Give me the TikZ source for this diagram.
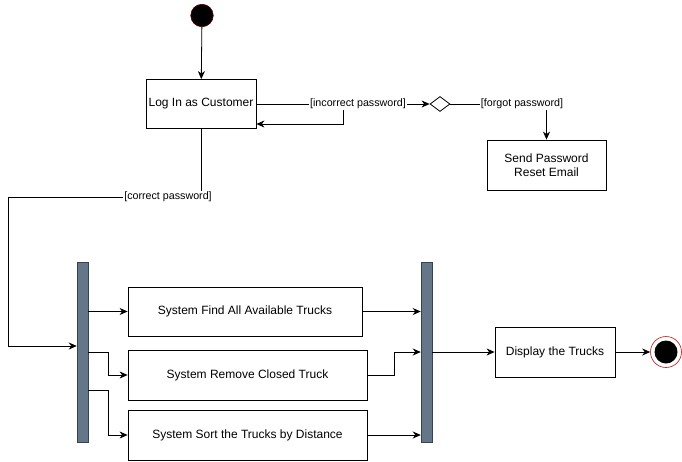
\documentclass[tikz,border=0pt]{standalone}
\usepackage{fontspec}
\setmainfont{Liberation Sans}
\usetikzlibrary{arrows.meta}
\usetikzlibrary{shapes.geometric}
\definecolor{barfill}{RGB}{100,118,135}
\definecolor{barline}{RGB}{49,67,84}
\definecolor{ringred}{RGB}{200,20,20}
\definecolor{dotred}{RGB}{90,0,0}

\begin{document}
\begin{tikzpicture}[x=1pt,y=-1pt,line width=0.8pt,
  task/.style={rectangle,draw,fill=white,inner sep=0pt,align=center,font=\fontsize{12}{14.5}\selectfont},
  guard/.style={fill=white,inner sep=1pt,font=\fontsize{10.7}{12}\selectfont},
  bar/.style={rectangle,draw=barline,fill=barfill,line width=0.5pt,inner sep=0pt,minimum width=11pt,minimum height=180pt},
  flow/.style={-{Stealth[length=8pt,width=7pt,inset=2.5pt]}}]
\useasboundingbox (0,0) rectangle (682,461);

\node[circle,draw=dotred,fill=black,line width=0.6pt,inner sep=0pt,minimum size=22.5pt] (start) at (202,15.5) {};
\node[task,minimum width=110pt,minimum height=49pt] (login) at (201,104) {Log In as Customer};
\node[diamond,draw,fill=white,inner sep=0pt,minimum width=20pt,minimum height=15pt] (choice) at (440,104) {};
\node[task,minimum width=119pt,minimum height=50pt] (reset) at (546.5,165) {Send Password\\Reset Email};
\node[guard] (badpw) at (358,104) {[incorrect password]};
\node[guard] (forgotpw) at (522,104) {[forgot password]};
\node[guard] (okpw) at (168,197) {[correct password]};

\node[bar] (fork) at (82.5,352) {};
\node[bar] (join) at (426.5,352) {};
\node[task,minimum width=234pt,minimum height=49pt] (find) at (245,311.5) {System Find All Available Trucks};
\node[task,minimum width=239pt,minimum height=50pt] (remove) at (247.5,375) {System Remove Closed Truck};
\node[task,minimum width=239pt,minimum height=50pt] (sort) at (247.5,435) {System Sort the Trucks by Distance};
\node[task,minimum width=120pt,minimum height=50pt] (show) at (555,352) {Display the Trucks};
\node[circle,draw=ringred,fill=white,line width=0.6pt,inner sep=0pt,minimum size=31pt] (finish) at (666,352) {};
\fill (finish.center) circle (11.5);

\coordinate (bendl) at (8,197);
\draw[flow] (start) -- (login);
\draw (login.east) -- (badpw.west);
\draw[flow] (badpw.east) -- (choice.west);
\draw (choice.east) -- (forgotpw.west);
\draw[flow] (forgotpw.south -| reset.north) -- (reset.north);
\draw[flow] ([xshift=-15pt]badpw.south) |- ([yshift=-20pt]login.east);
\draw (login.south) -- (login.south |- okpw.north);
\draw[flow] (okpw.west) -- (bendl) |- ([yshift=6pt]fork.west);

\draw[flow] (fork.east |- find.west) -- (find.west);
\draw[flow] (fork.east) -- ++(20,0) |- (remove.west);
\draw[flow] ([yshift=-38pt]fork.east) -- ++(20,0) |- (sort.west);
\draw[flow] (find.east) -- (find.east -| join.west);
\draw[flow] (remove.east) -- ++(27,0) |- (join.west);
\draw[flow] (sort.east) -- (sort.east -| join.west);
\draw[flow] (join.east) -- (show.west);
\draw[flow] (show.east) -- (finish.west);

\end{tikzpicture}
\end{document}
